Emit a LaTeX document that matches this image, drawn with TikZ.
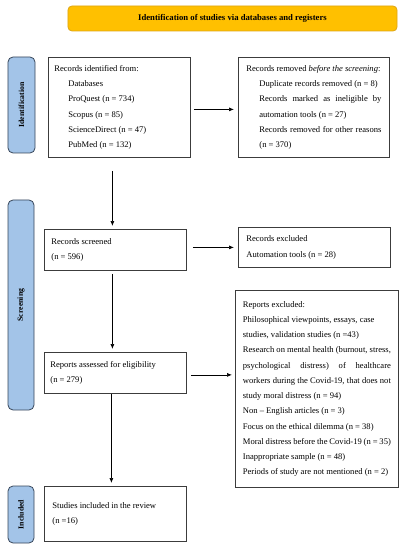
\documentclass[tikz,border=0pt]{standalone}
\usepackage{fontspec}
\setmainfont{Liberation Serif}
\usetikzlibrary{arrows.meta}
\definecolor{bannerfill}{RGB}{255,192,0}
\definecolor{bannerdraw}{RGB}{222,165,20}
\definecolor{sidefill}{RGB}{163,196,232}
\definecolor{sidedraw}{RGB}{55,70,90}
\definecolor{boxdraw}{RGB}{60,60,60}
\begin{document}
\begin{tikzpicture}[x=1bp,y=-1bp,
  box/.style={draw=boxdraw, line width=0.8bp, inner ysep=0bp, anchor=north west,
    align=justify, font=\fontsize{8.6}{15.3}\selectfont},
  side/.style={draw=sidedraw, fill=sidefill, line width=0.8bp, rounded corners=5bp,
    rotate=90, inner sep=0bp, font=\bfseries\fontsize{7.8}{9}\selectfont},
  banner/.style={draw=bannerdraw, fill=bannerfill, line width=0.8bp, rounded corners=4bp,
    inner sep=0bp, font=\bfseries\fontsize{8.7}{10}\selectfont},
  arr/.style={draw=black, line width=0.7bp, -{Latex[length=5bp,width=4bp]}}
]
\useasboundingbox (0,0) rectangle (405,550);

\node[banner, minimum width=329bp, minimum height=25bp] (banner) at (232.5,18.5)
  {Identification of studies via databases and registers};

\node[side, minimum width=96bp, minimum height=27bp] (side1) at (21.5,105) {Identification};
\node[side, minimum width=210bp, minimum height=26bp] (side2) at (21,305) {Screening};
\node[side, minimum width=57bp, minimum height=26bp] (side3) at (21,514.5) {Included};

\node[box, minimum height=100bp, inner xsep=6bp, text width=130bp] (ident) at (48,57)
  {Records identified from:\par
   {\leftskip=14bp Databases\\ ProQuest (n = 734)\\ Scopus (n = 85)\\ ScienceDirect (n = 47)\\ PubMed (n = 132)\par}};

\node[box, minimum height=100bp, inner xsep=8bp, text width=135bp] (removed) at (238,57)
  {Records removed \textit{before the screening}:\par
   {\leftskip=13bp Duplicate records removed (n = 8)\par
    Records marked as ineligible by\linebreak automation tools (n = 27)\par
    Records removed for other reasons\linebreak (n = 370)\par}};

\node[box, minimum height=41bp, inner xsep=7bp, text width=128bp] (screened) at (44,229)
  {Records screened\\(n = 596)};

\node[box, minimum height=40bp, inner xsep=8bp, text width=136bp] (excluded) at (238,227)
  {Records excluded\\Automation tools (n = 28)};

\node[box, minimum height=41bp, inner xsep=6bp, text width=130bp] (assessed) at (44,352)
  {Reports assessed for eligibility\\(n = 279)};

\node[box, minimum height=197bp, inner xsep=7.5bp, text width=148bp] (repexcl) at (235,290)
  {Reports excluded:\\
   Philosophical viewpoints, essays, case\\
   studies, validation studies (n =43)\par
   Research on mental health (burnout, stress,\linebreak
   psychological distress) of healthcare\linebreak
   workers during the Covid-19, that does not\linebreak
   study moral distress (n = 94)\par
   Non -- English articles (n = 3)\\
   Focus on the ethical dilemma (n = 38)\\
   Moral distress before the Covid-19 (n = 35)\\
   Inappropriate sample (n = 48)\\
   Periods of study are not mentioned (n = 2)};

\node[box, minimum height=55bp, inner xsep=8bp, text width=126bp] (studies) at (44,486)
  {Studies included in the review\\(n =16)};

\draw[arr, shorten <=3bp, shorten >=4bp] ([yshift=-2bp]ident.east) -- ([yshift=-2bp]removed.west);
\draw[arr, shorten <=13bp, shorten >=3bp] ([xshift=-3bp]screened.north |- ident.south) -- ([xshift=-3bp]screened.north);
\draw[arr, shorten <=6bp, shorten >=4bp] (screened.east |- excluded.west) -- (excluded.west);
\draw[arr, shorten <=3bp, shorten >=3bp] ([xshift=-3bp]screened.south) -- ([xshift=-3bp]assessed.north);
\draw[arr, shorten <=4bp, shorten >=3bp] ([yshift=-2bp]assessed.east) -- ([yshift=-2bp]assessed.east -| repexcl.west);
\draw[arr, shorten <=0bp, shorten >=3bp] ([xshift=-4bp]assessed.south) -- ([xshift=-4bp]studies.north);
\end{tikzpicture}
\end{document}
